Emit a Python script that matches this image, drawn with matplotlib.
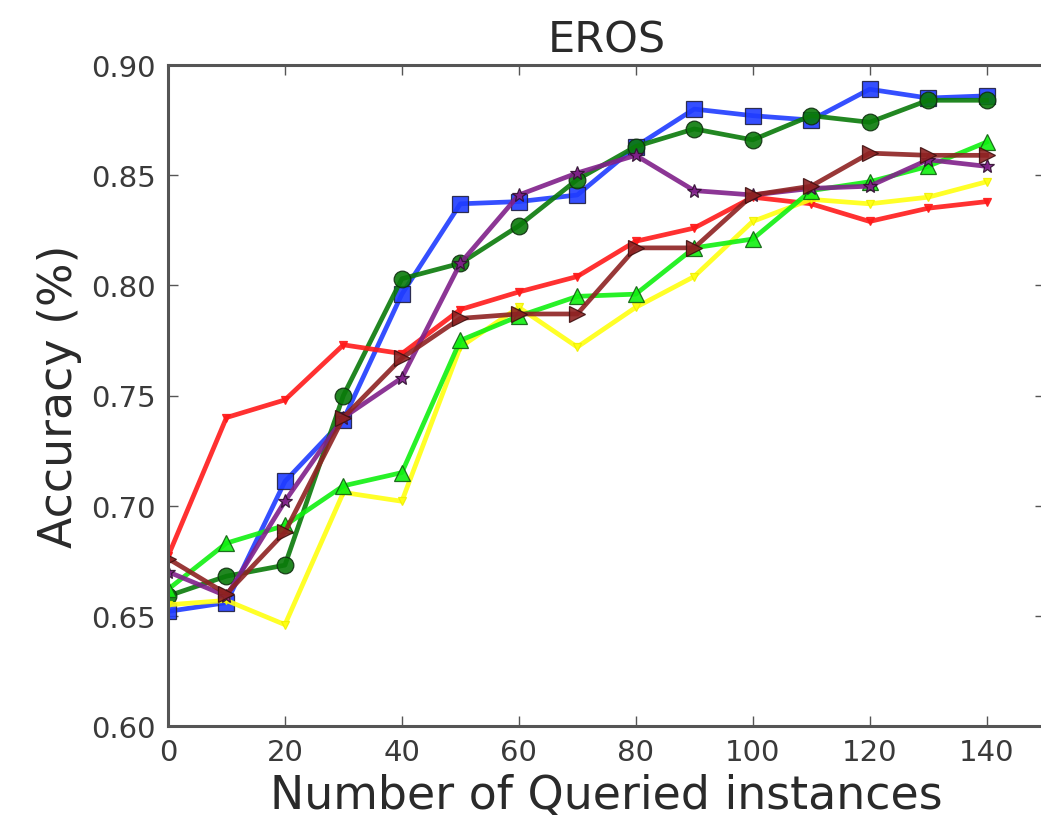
import numpy as np
import matplotlib; matplotlib.use('Agg')
import matplotlib.pyplot as plt

# ── data ──
queried = [0, 10, 20, 30, 40, 50, 60, 70, 80, 90, 100, 110, 120, 130, 140]
acc_blue = [0.652, 0.656, 0.711, 0.739, 0.796, 0.837, 0.838, 0.841, 0.863, 0.880, 0.877, 0.875, 0.889, 0.885, 0.886]
acc_green = [0.659, 0.668, 0.673, 0.750, 0.803, 0.810, 0.827, 0.848, 0.863, 0.871, 0.866, 0.877, 0.874, 0.884, 0.884]
acc_red = [0.677, 0.740, 0.748, 0.773, 0.769, 0.789, 0.797, 0.804, 0.820, 0.826, 0.840, 0.837, 0.829, 0.835, 0.838]
acc_yellow = [0.655, 0.657, 0.646, 0.706, 0.702, 0.772, 0.790, 0.772, 0.790, 0.804, 0.829, 0.839, 0.837, 0.840, 0.847]
acc_lime = [0.662, 0.683, 0.691, 0.709, 0.715, 0.775, 0.786, 0.795, 0.796, 0.817, 0.821, 0.843, 0.847, 0.854, 0.865]
acc_purple = [0.670, 0.659, 0.702, 0.740, 0.758, 0.810, 0.841, 0.851, 0.859, 0.843, 0.841, 0.844, 0.845, 0.857, 0.854]
acc_brown = [0.676, 0.660, 0.688, 0.740, 0.767, 0.785, 0.787, 0.787, 0.817, 0.817, 0.841, 0.845, 0.860, 0.859, 0.859]

# (values, colour, marker, size, marker edge)
series = [
    (acc_blue, '#1f3cff', 's', 12, '#202040'),
    (acc_green, '#0a7a0a', 'o', 12, '#103010'),
    (acc_red, '#ff1a1a', 'v', 6, '#ff1a1a'),
    (acc_yellow, '#ffff10', 'v', 6, '#f0f000'),
    (acc_lime, '#10f010', '^', 11, '#106010'),
    (acc_purple, '#80208a', '*', 10, '#301030'),
    (acc_brown, '#8e2222', '>', 11, '#401010'),
]

plt.rcParams.update({'font.family': 'DejaVu Sans'})

fig = plt.figure(figsize=(10.41, 8.29), dpi=100)
fig.patch.set_facecolor('white')
ax = fig.add_axes([168/1041, 1 - 727/829, (1045 - 168)/1041, (727 - 66)/829])

for vals, col, mk, ms, edge in series:
    ax.plot(queried, vals, color=col, lw=3.4, marker=mk, ms=ms,
            mec=edge, mew=0.9, alpha=0.9)

ax.set_xlim(0, 150)
ax.set_ylim(0.60, 0.90)
ax.set_xticks(np.arange(0, 141, 20))
ax.set_yticks(np.arange(0.60, 0.901, 0.05))
ax.set_yticklabels([f'{v:.2f}' for v in np.arange(0.60, 0.901, 0.05)])

for s in ax.spines.values():
    s.set_color('#555555'); s.set_linewidth(2.2)
ax.tick_params(direction='in', top=True, right=True, length=7, width=1,
               color='#555555', labelsize=21, labelcolor='#3a3a3a', pad=9)

ax.set_title('EROS', fontsize=31, color='#2a2a2a', pad=10)
ax.set_xlabel('Number of Queried instances', fontsize=33, color='#2a2a2a', labelpad=5)
ax.set_ylabel('Accuracy (%)', fontsize=33, color='#2a2a2a', labelpad=6)

fig.savefig('out.png', dpi=100, facecolor='white')
